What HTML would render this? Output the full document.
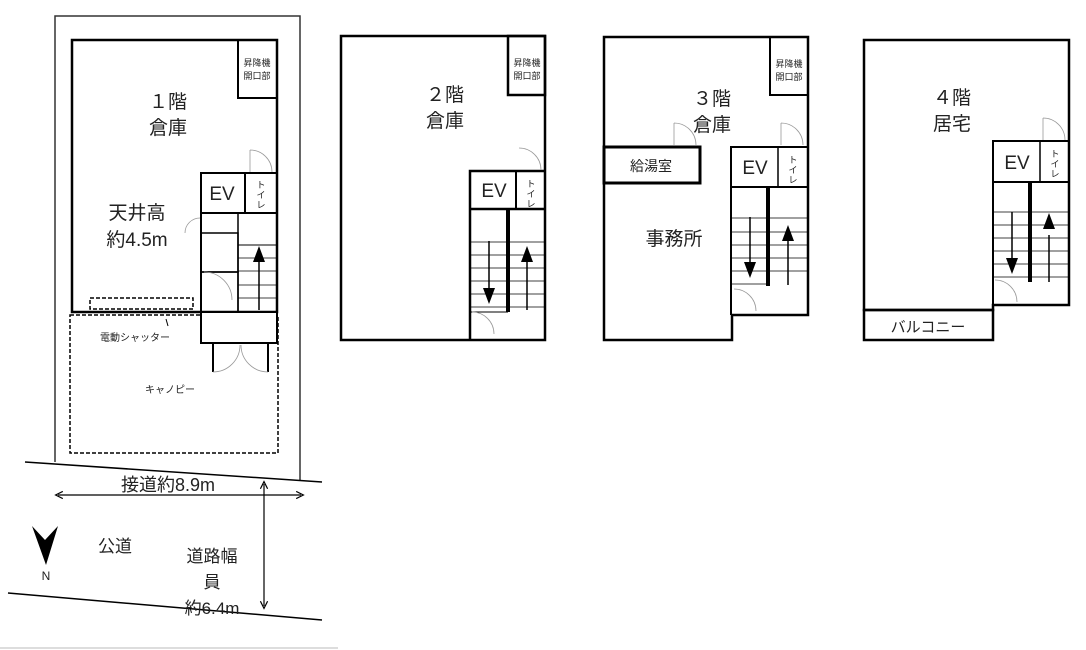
<!DOCTYPE html>
<html><head><meta charset="utf-8"><style>
html,body{margin:0;padding:0;background:#fff}
svg{display:block}
text{font-family:"Liberation Sans","Noto Sans CJK JP",sans-serif;fill:#222}
</style></head><body>
<svg width="1086" height="650" viewBox="0 0 1086 650" xmlns="http://www.w3.org/2000/svg">
<defs>
<marker id="ah" markerWidth="8" markerHeight="8" refX="4" refY="4" orient="auto-start-reverse"><path d="M0,1 L6,4 L0,7" fill="none" stroke="#000" stroke-width="1"/></marker>
</defs>
<g fill="none" stroke="#000">
<path d="M55,462 V16 H300 V480" stroke-width="1.5" stroke="#333"/>
<rect x="72" y="40" width="205" height="272" stroke-width="2.5"/>
<rect x="238" y="40" width="39" height="58" stroke-width="2"/>
<rect x="201" y="173" width="76" height="40" stroke-width="2"/>
<line x1="245" y1="173" x2="245" y2="213" stroke-width="2"/>
<line x1="201" y1="173" x2="201" y2="312" stroke-width="2"/>
<rect x="201" y="233" width="37" height="39" stroke-width="1.5"/>
<rect x="201" y="272" width="37" height="40" stroke-width="1.5"/>
<line x1="238" y1="213" x2="238" y2="312" stroke-width="1.5"/>
<line x1="238" y1="245" x2="277" y2="245" stroke-width="1"/>
<g stroke-width="0.8"><line x1="238" y1="258" x2="277" y2="258"/><line x1="238" y1="271" x2="277" y2="271"/><line x1="238" y1="285" x2="277" y2="285"/><line x1="238" y1="298" x2="277" y2="298"/></g>
<line x1="259" y1="260" x2="259" y2="310" stroke-width="1.5"/>
<rect x="90" y="298" width="103" height="11" stroke-width="1.5" stroke-dasharray="4,2"/>
<rect x="70" y="315" width="208" height="138" stroke-width="1.5" stroke-dasharray="4,2"/>
<rect x="201" y="312" width="76" height="31" stroke-width="2" fill="#fff"/>
<line x1="213" y1="343" x2="213" y2="372" stroke-width="2"/>
<line x1="268" y1="343" x2="268" y2="372" stroke-width="2"/>
<path d="M213,372 A27,27 0 0 0 240,345 M268,372 A27,27 0 0 1 241,345" stroke="#999" stroke-width="0.8"/>
<path d="M250,150 A22,22 0 0 1 272,172 M250,150 V172" stroke="#999" stroke-width="0.8"/>
<path d="M185,233 A15,15 0 0 1 200,218" stroke="#999" stroke-width="0.8"/>
<path d="M204,272 A28,28 0 0 1 232,300" stroke="#999" stroke-width="0.8"/>
<line x1="168" y1="326" x2="166" y2="319" stroke-width="1"/>
<line x1="25" y1="462" x2="322" y2="482" stroke-width="1.5"/>
<line x1="8" y1="593" x2="322" y2="620" stroke-width="1.5"/>
<line x1="58" y1="495" x2="301" y2="495" stroke-width="1.2" marker-start="url(#ah)" marker-end="url(#ah)"/>
<line x1="264" y1="484" x2="264" y2="606" stroke-width="1.2" marker-start="url(#ah)" marker-end="url(#ah)"/>
<rect x="341" y="36" width="204" height="304" stroke-width="2.5"/>
<rect x="508" y="36" width="37" height="59" stroke-width="2.5"/>
<path d="M470,340 V171 H545" stroke-width="2.5"/>
<line x1="470" y1="209" x2="545" y2="209" stroke-width="2.5"/>
<line x1="516" y1="171" x2="516" y2="209" stroke-width="2"/>
<line x1="508" y1="209" x2="508" y2="312" stroke-width="4"/>
<g stroke-width="0.8"><line x1="470" y1="242" x2="545" y2="242"/><line x1="470" y1="255" x2="545" y2="255"/><line x1="470" y1="268" x2="545" y2="268"/><line x1="470" y1="281" x2="545" y2="281"/><line x1="470" y1="294" x2="545" y2="294"/><line x1="470" y1="307" x2="545" y2="307"/></g>
<line x1="470" y1="312" x2="508" y2="312" stroke-width="1"/>
<line x1="489" y1="241" x2="489" y2="290" stroke-width="1.5"/>
<line x1="527" y1="258" x2="527" y2="310" stroke-width="1.5"/>
<path d="M472,312 A22,22 0 0 1 494,334 M519,148 A22,22 0 0 1 541,170" stroke="#999" stroke-width="0.8"/>
<path d="M604,37 H808 V315 H732 V340 H604 Z" stroke-width="2.5"/>
<rect x="770" y="37" width="38" height="58" stroke-width="2"/>
<rect x="604" y="147" width="96" height="36" stroke-width="3"/>
<path d="M731,315 V147 H808" stroke-width="2"/>
<line x1="731" y1="187" x2="808" y2="187" stroke-width="2"/>
<line x1="778" y1="147" x2="778" y2="187" stroke-width="1.5"/>
<line x1="768" y1="187" x2="768" y2="286" stroke-width="4"/>
<g stroke-width="0.8"><line x1="731" y1="218" x2="808" y2="218"/><line x1="731" y1="232" x2="808" y2="232"/><line x1="731" y1="245" x2="808" y2="245"/><line x1="731" y1="258" x2="808" y2="258"/><line x1="731" y1="271" x2="808" y2="271"/><line x1="731" y1="284" x2="768" y2="284"/></g>
<line x1="750" y1="217" x2="750" y2="265" stroke-width="1.5"/>
<line x1="788" y1="237" x2="788" y2="285" stroke-width="1.5"/>
<path d="M674,123 A22,22 0 0 1 696,145 M674,123 V145 M781,123 A22,22 0 0 1 803,145 M781,123 V145 M734,289 A22,22 0 0 1 756,311" stroke="#999" stroke-width="0.8"/>
<path d="M864,40 H1069 V305 H993 V310 H864 Z" stroke-width="2.5"/>
<rect x="864" y="310" width="129" height="30" stroke-width="2.5"/>
<path d="M993,310 V141 H1069" stroke-width="2"/>
<line x1="993" y1="182" x2="1069" y2="182" stroke-width="2"/>
<line x1="1040" y1="141" x2="1040" y2="182" stroke-width="1.5"/>
<line x1="1030" y1="182" x2="1030" y2="282" stroke-width="4"/>
<g stroke-width="0.8"><line x1="993" y1="212" x2="1069" y2="212"/><line x1="993" y1="225" x2="1069" y2="225"/><line x1="993" y1="238" x2="1069" y2="238"/><line x1="993" y1="251" x2="1069" y2="251"/><line x1="993" y1="264" x2="1069" y2="264"/><line x1="993" y1="277" x2="1069" y2="277"/></g>
<line x1="1012" y1="212" x2="1012" y2="262" stroke-width="1.5"/>
<line x1="1049" y1="235" x2="1049" y2="282" stroke-width="1.5"/>
<path d="M1043,118 A22,22 0 0 1 1065,140 M1043,118 V140 M995,280 A22,22 0 0 1 1017,302" stroke="#999" stroke-width="0.8"/>
</g>
<g fill="#000">
<path d="M253,262 L259,246 L265,262 Z"/>
<path d="M483,288 L489,304 L495,288 Z"/>
<path d="M521,262 L527,246 L533,262 Z"/>
<path d="M744,262 L750,278 L756,262 Z"/>
<path d="M782,241 L788,225 L794,241 Z"/>
<path d="M1006,258 L1012,274 L1018,258 Z"/>
<path d="M1043,229 L1049,213 L1055,229 Z"/>
<path d="M32,526 L45,540 L58,526 L46,565 Z"/>
</g>
<g text-anchor="middle">
<text x="168" y="108" font-size="19">１階</text><text x="168" y="134" font-size="19">倉庫</text>
<text x="257" y="66" font-size="9">昇降機</text><text x="257" y="79" font-size="9">開口部</text>
<text x="222" y="200" font-size="19">EV</text>
<text x="261" y="188" font-size="9">ト</text><text x="261" y="198" font-size="9">イ</text><text x="261" y="208" font-size="9">レ</text>
<text x="137" y="219" font-size="19">天井高</text><text x="137" y="246" font-size="19">約4.5m</text>
<text x="135" y="341" font-size="10">電動シャッター</text>
<text x="170" y="393" font-size="10">キャノピー</text>
<text x="168" y="491" font-size="18">接道約8.9m</text>
<text x="115" y="552" font-size="17">公道</text>
<text x="212" y="562" font-size="17">道路幅</text><text x="212" y="588" font-size="17">員</text><text x="212" y="614" font-size="17">約6.4m</text>
<text x="46" y="580" font-size="12">N</text>
<text x="445" y="101" font-size="19">２階</text><text x="445" y="127" font-size="19">倉庫</text>
<text x="527" y="66" font-size="9">昇降機</text><text x="527" y="79" font-size="9">開口部</text>
<text x="494" y="197" font-size="19">EV</text>
<text x="531" y="187" font-size="9">ト</text><text x="531" y="197" font-size="9">イ</text><text x="531" y="207" font-size="9">レ</text>
<text x="712" y="105" font-size="19">３階</text><text x="712" y="131" font-size="19">倉庫</text>
<text x="789" y="67" font-size="9">昇降機</text><text x="789" y="80" font-size="9">開口部</text>
<text x="651" y="171" font-size="14">給湯室</text>
<text x="755" y="174" font-size="19">EV</text>
<text x="793" y="163" font-size="9">ト</text><text x="793" y="173" font-size="9">イ</text><text x="793" y="183" font-size="9">レ</text>
<text x="674" y="245" font-size="19">事務所</text>
<text x="952" y="104" font-size="19">４階</text><text x="952" y="130" font-size="19">居宅</text>
<text x="1017" y="169" font-size="19">EV</text>
<text x="1055" y="157" font-size="9">ト</text><text x="1055" y="167" font-size="9">イ</text><text x="1055" y="177" font-size="9">レ</text>
<text x="928" y="332" font-size="15">バルコニー</text>
</g>
<line x1="0" y1="648" x2="338" y2="648" stroke="#ddd" stroke-width="2"/>
</svg>
</body></html>
